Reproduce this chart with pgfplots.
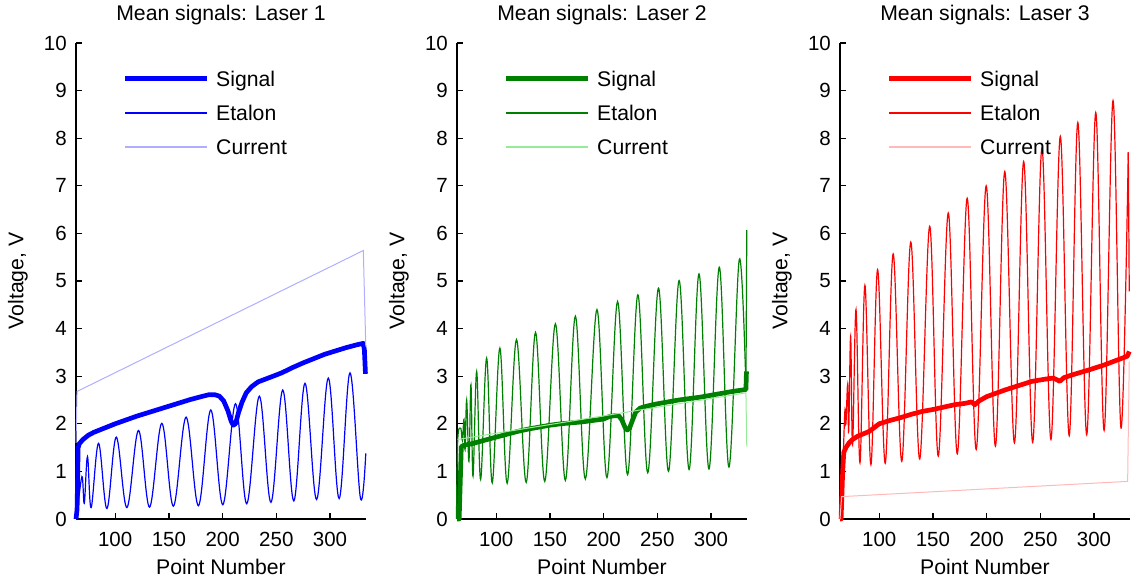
\documentclass[border=0pt]{standalone}
\usepackage{fontspec}
\setmainfont{Liberation Sans}
\usepackage{pgfplots}
\pgfplotsset{compat=1.18}
\definecolor{sigB}{RGB}{0,0,255}
\definecolor{curB}{RGB}{175,175,255}
\definecolor{sigG}{RGB}{0,128,0}
\definecolor{curG}{RGB}{150,235,150}
\definecolor{sigR}{RGB}{255,0,0}
\definecolor{curR}{RGB}{255,185,185}
\newcommand{\fs}{\fontsize{20.5}{24}\selectfont}
\newcommand{\fl}{\fontsize{21.2}{24}\selectfont}
\newcommand{\mylegend}[3]{%
  \draw[color=#1, line width=5pt] (axis description cs:0.169,0.9244) -- ++(82pt,0pt);
  \draw[color=#2, line width=1.4pt] (axis description cs:0.169,0.8529) -- ++(82pt,0pt);
  \draw[color=#3, line width=1.2pt] (axis description cs:0.169,0.7815) -- ++(82pt,0pt);
  \node[anchor=base west, inner sep=0pt, font=\fl] at ([yshift=-7.4pt]axis description cs:0.4828,0.9244) {Signal};
  \node[anchor=base west, inner sep=0pt, font=\fl] at ([yshift=-7.4pt]axis description cs:0.4828,0.8529) {Etalon};
  \node[anchor=base west, inner sep=0pt, font=\fl] at ([yshift=-7.4pt]axis description cs:0.4828,0.7815) {Current};
}
\pgfplotsset{
  myaxis/.style={
    scale only axis, width=290pt, height=476pt,
    xmin=63.5, xmax=333.5, ymin=0, ymax=10,
    clip=false,
    axis lines*=left,
    axis line style={line width=1.6pt, black},
    tick style={line width=1.3pt, black},
    tick align=inside, major tick length=6pt,
    xtick={100,150,...,300}, ytick={0,1,...,10},
    /pgf/number format/assume math mode=true,
    tick label style={font=\fs},
    xticklabel style={anchor=base, inner sep=0pt, yshift=-27.5pt},
    yticklabel style={anchor=east, inner sep=0pt, xshift=-9pt},
    label style={font=\fl},
    xlabel={Point Number}, ylabel={Voltage, V},
    xlabel style={at={(axis description cs:0.5,0)}, anchor=base, yshift=-56pt},
    ylabel style={at={(axis description cs:-0.2,0.5)}, anchor=center},
    title style={font=\fl, at={(axis description cs:0.5,1)}, anchor=base, yshift=16pt},
  },
}
\begin{document}
\begin{tikzpicture}
\path[use as bounding box] (0pt,0pt) rectangle (1139pt,580pt);
% ---------------- Laser 1
\begin{axis}[myaxis, at={(76pt,61pt)}, anchor=south west, title={Mean signals: Laser 1}]
\addplot[color=sigB, line width=4.7pt, line join=round] coordinates {
(63.5,0) (64.5,0.2) (65.5,1.5) (66.5,1.58) (70,1.67) (75,1.76) (80,1.82) (90,1.91)
(100,2.0) (110,2.08) (120,2.16) (130,2.23) (140,2.3) (150,2.37) (160,2.44) (170,2.51)
(180,2.57) (187,2.61) (193,2.61) (197,2.58) (201,2.48) (205,2.27) (208,2.05) (210,1.97)
(212,2.0) (215,2.25) (218,2.45) (222,2.65) (227,2.78) (233,2.88) (240,2.94) (247,3.0)
(255,3.07) (265,3.18) (275,3.28) (285,3.37) (295,3.46) (305,3.53) (315,3.6) (325,3.66)
(331,3.69) (332,3.55) (333,3.05)};
\addplot[color=sigB, line width=1.2pt, smooth, tension=0.6] coordinates {
(64,0.0) (69,0.89) (71.2,0.33) (74.2,1.31) (77.6,0.24) (84.5,1.59) (92.3,0.22) (101,1.72)
(110.9,0.24) (121.7,1.86) (132,0.25) (143.4,2.01) (154.2,0.27) (166,2.14) (177.5,0.28)
(189,2.29) (200.2,0.30) (212,2.42) (222.5,0.32) (234.2,2.58) (245,0.35) (256,2.71)
(266.3,0.38) (276.7,2.85) (287.5,0.41) (298.4,2.96) (308.5,0.43) (318.6,3.07) (328.3,0.44)
(333.3,1.38)};
\addplot[color=curB, line width=1pt] coordinates {(63.5,1.6) (64.5,2.68) (331,5.64) (333.3,3.62)};
\mylegend{sigB}{sigB}{curB}
\end{axis}
% ---------------- Laser 2
\begin{axis}[myaxis, at={(457pt,61pt)}, anchor=south west, title={Mean signals: Laser 2}]
\addplot[color=sigG, line width=4.7pt, line join=round] coordinates {
(63.5,0) (65.5,0) (67.5,1.52) (70,1.55) (77,1.58) (90,1.66) (100,1.72) (110,1.78)
(120,1.84) (130,1.89) (140,1.93) (150,1.97) (160,2.0) (170,2.02) (180,2.04) (190,2.07)
(200,2.1) (205,2.15) (210,2.17) (214,2.17) (217,2.08) (220,1.92) (222,1.87) (224,1.9)
(227,2.08) (230,2.25) (234,2.33) (240,2.37) (250,2.42) (260,2.46) (270,2.5) (280,2.53)
(290,2.56) (300,2.6) (310,2.64) (320,2.68) (332.5,2.72) (333,3.1)};
\addplot[color=sigG, line width=1.2pt, smooth, tension=0.6] coordinates {
(63,0) (64.2,1.67) (67,1.9) (68.5,1.65) (70,2.09) (71,1.45) (72.5,2.5) (74.6,1.21)
(76.5,2.82) (78.4,0.9) (81.8,3.1) (85.5,0.83) (91.1,3.38) (96.3,0.76) (103.4,3.59)
(110.2,0.75) (118.9,3.77) (127.9,0.77) (136.6,3.92) (145.2,0.79) (155.1,4.10) (164.4,0.81)
(173.7,4.26) (183,0.84) (193.8,4.40) (203.1,0.87) (213,4.57) (222.3,0.93) (231.9,4.71)
(241.1,0.97) (251.1,4.85) (260.4,1.0) (270.3,5.01) (279.6,1.04) (288.8,5.15) (298.1,1.05)
(307.7,5.29) (316.7,1.09) (326.3,5.45) (332.5,2.78)};
\addplot[color=sigG, line width=1.2pt] coordinates {(332.5,2.78) (333.3,6.07)};
\addplot[color=curG, line width=1pt] coordinates {(64,1.67) (332.5,2.65) (333.3,1.52)};
\mylegend{sigG}{sigG}{curG}
\end{axis}
% ---------------- Laser 3
\begin{axis}[myaxis, at={(840pt,61pt)}, anchor=south west, title={Mean signals: Laser 3}]
\addplot[color=sigR, line width=4.7pt, line join=round] coordinates {
(63.5,0) (64.5,0) (66,1.0) (67,1.4) (69,1.5) (72,1.6) (75.2,1.67) (80,1.74) (90.7,1.84)
(100,2.0) (110,2.07) (120,2.13) (130,2.2) (140,2.26) (150,2.3) (160,2.35) (170,2.4)
(180,2.43) (186,2.46) (189,2.40) (193,2.48) (200,2.57) (217,2.71) (242,2.89) (255,2.94)
(262,2.96) (266,2.92) (268,2.89) (272,2.97) (280,3.03) (295,3.13) (310,3.24) (331,3.42)
(332.8,3.52)};
\addplot[color=sigR, line width=1.2pt, smooth, tension=0.6] coordinates {
(63.5,0) (66,1.0) (68,2.26) (69,2.0) (70.6,2.82) (71.6,1.84) (73.4,3.84) (75.2,1.56)
(78.4,4.40) (82.1,1.18) (86.7,4.91) (92.3,1.14) (98.5,5.24) (105.6,1.17) (113,5.57)
(121,1.21) (129.4,5.82) (137.7,1.26) (147,6.15) (155,1.32) (164.3,6.43) (172.7,1.37)
(181.9,6.74) (190.3,1.46) (199.6,7.0) (208.2,1.53) (216.9,7.3) (225.9,1.6) (234.5,7.51)
(242.9,1.61) (251.5,7.79) (259.9,1.67) (268.6,8.04) (276.9,1.75) (284.9,8.33) (293.2,1.77)
(301.6,8.54) (309.4,1.86) (317.7,8.79) (325.1,1.91) (331.9,7.70)};
\addplot[color=sigR, line width=1.2pt] coordinates {(331.9,7.70) (332.8,4.78)};
\addplot[color=curR, line width=1pt] coordinates {(63.5,0) (65,0.47) (331.3,0.79) (332.8,3.31)};
\mylegend{sigR}{sigR}{curR}
\end{axis}
\end{tikzpicture}
\end{document}
